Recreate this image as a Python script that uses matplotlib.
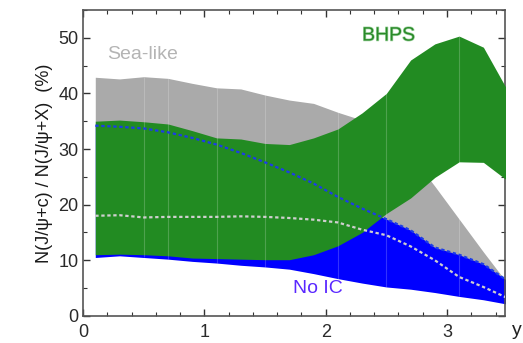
import matplotlib

matplotlib.use("Agg")
import matplotlib.pyplot as plt
import matplotlib.patheffects as pe
import numpy as np
from matplotlib.ticker import MultipleLocator

plt.rcParams["font.family"] = ["Liberation Sans", "DejaVu Sans"]

# --- data (rapidity y, fraction in %) ---
y = [0.1, 0.3, 0.5, 0.7, 0.9, 1.1, 1.3, 1.5, 1.7, 1.9, 2.1, 2.3, 2.5, 2.7, 2.9, 3.1, 3.3, 3.5]
sea_hi = [42.9, 42.6, 43.0, 42.7, 41.8, 41.0, 40.8, 39.7, 38.8, 38.2, 36.6, 35.2, 33.0, 29.0,
          23.3, 17.4, 11.5, 5.8]
sea_lo = [18.0, 18.1, 17.7, 17.8, 17.8, 17.8, 17.9, 17.8, 17.6, 17.3, 16.8, 15.5, 14.5, 12.5,
          10.0, 7.0, 5.2, 3.2]
bhps_hi = [35.0, 35.2, 34.9, 34.5, 33.3, 32.0, 31.8, 31.0, 30.8, 32.0, 33.6, 36.5, 40.0, 46.0,
           48.9, 50.3, 48.3, 40.5]
bhps_lo = [11.0, 11.1, 11.0, 10.8, 10.4, 10.3, 10.2, 10.1, 10.1, 11.0, 12.6, 15.0, 18.4, 21.2,
           24.9, 27.7, 27.6, 24.3]
noic_hi = [34.2, 34.0, 33.7, 33.0, 32.0, 30.8, 29.3, 27.6, 25.8, 23.8, 21.4, 19.3, 17.4, 15.4,
           12.3, 11.0, 9.3, 6.3]
noic_lo = [10.5, 10.8, 10.5, 10.2, 9.8, 9.5, 9.1, 8.8, 8.4, 7.6, 6.7, 5.9, 5.2, 4.8,
           4.2, 3.5, 2.9, 2.1]
# faint seams visible inside the bands
seams = [0.5, 0.7, 1.1, 1.5, 2.1, 2.5, 3.1]

GRAY, GREEN, BLUE = "#aaaaaa", "#228b22", "#0000ff"

fig = plt.figure(figsize=(5.23, 3.43), dpi=100)
ax = fig.add_axes([0.159, 0.079, 0.807, 0.892])

ax.fill_between(y, sea_lo, sea_hi, color=GRAY, lw=0, zorder=1)
ax.fill_between(y, noic_lo, noic_hi, color=BLUE, lw=0, zorder=2)
ax.fill_between(y, bhps_lo, bhps_hi, color=GREEN, lw=0, zorder=3)

top = np.maximum.reduce([sea_hi, bhps_hi, noic_hi])
ax.vlines(seams, np.interp(seams, y, noic_lo), np.interp(seams, y, top),
          colors="white", alpha=0.2, lw=0.8, zorder=4)

ax.plot(y, noic_hi, ls=(0, (1.5, 1.2)), color="#1c3ce8", lw=1.6, zorder=5)
ax.plot(y, sea_lo, ls=(0, (1.5, 1.2)), color="#cfcfcf", lw=1.6, zorder=5)

ax.text(0.2, 47, "Sea-like", color="#b4b4b4", fontsize=14, va="center", ha="left")
ax.text(2.3, 50.3, "BHPS", color="#2a8a2a", fontsize=14, va="center", ha="left",
        path_effects=[pe.withStroke(linewidth=1.0, foreground="#a8d8a8")])
ax.text(1.73, 5.0, "No IC", color="#5a28ff", fontsize=14, va="center", ha="left")

ax.set_xlim(0, 3.48)
ax.set_ylim(0, 55)
ax.xaxis.set_major_locator(MultipleLocator(1))
ax.xaxis.set_minor_locator(MultipleLocator(0.2))
ax.yaxis.set_major_locator(MultipleLocator(10))
ax.yaxis.set_minor_locator(MultipleLocator(5))
ax.tick_params(which="both", direction="in", top=True, right=True, color="#333333",
               labelsize=13, labelcolor="#2a2a2a")
ax.tick_params(which="major", length=5, width=1)
ax.tick_params(which="minor", length=3, width=0.8)
ax.tick_params(axis="x", pad=6)
for s in ax.spines.values():
    s.set_color("#555555")
    s.set_linewidth(1.2)

ax.set_ylabel("N(J/\u03c8+c) / N(J/\u03c8+X)  (%)", fontsize=13, color="#1a1a1a", labelpad=4)
fig.text(0.998, 0.035, "y", fontsize=14, color="#222222", ha="right", va="center")

fig.savefig("out.png", dpi=100)
